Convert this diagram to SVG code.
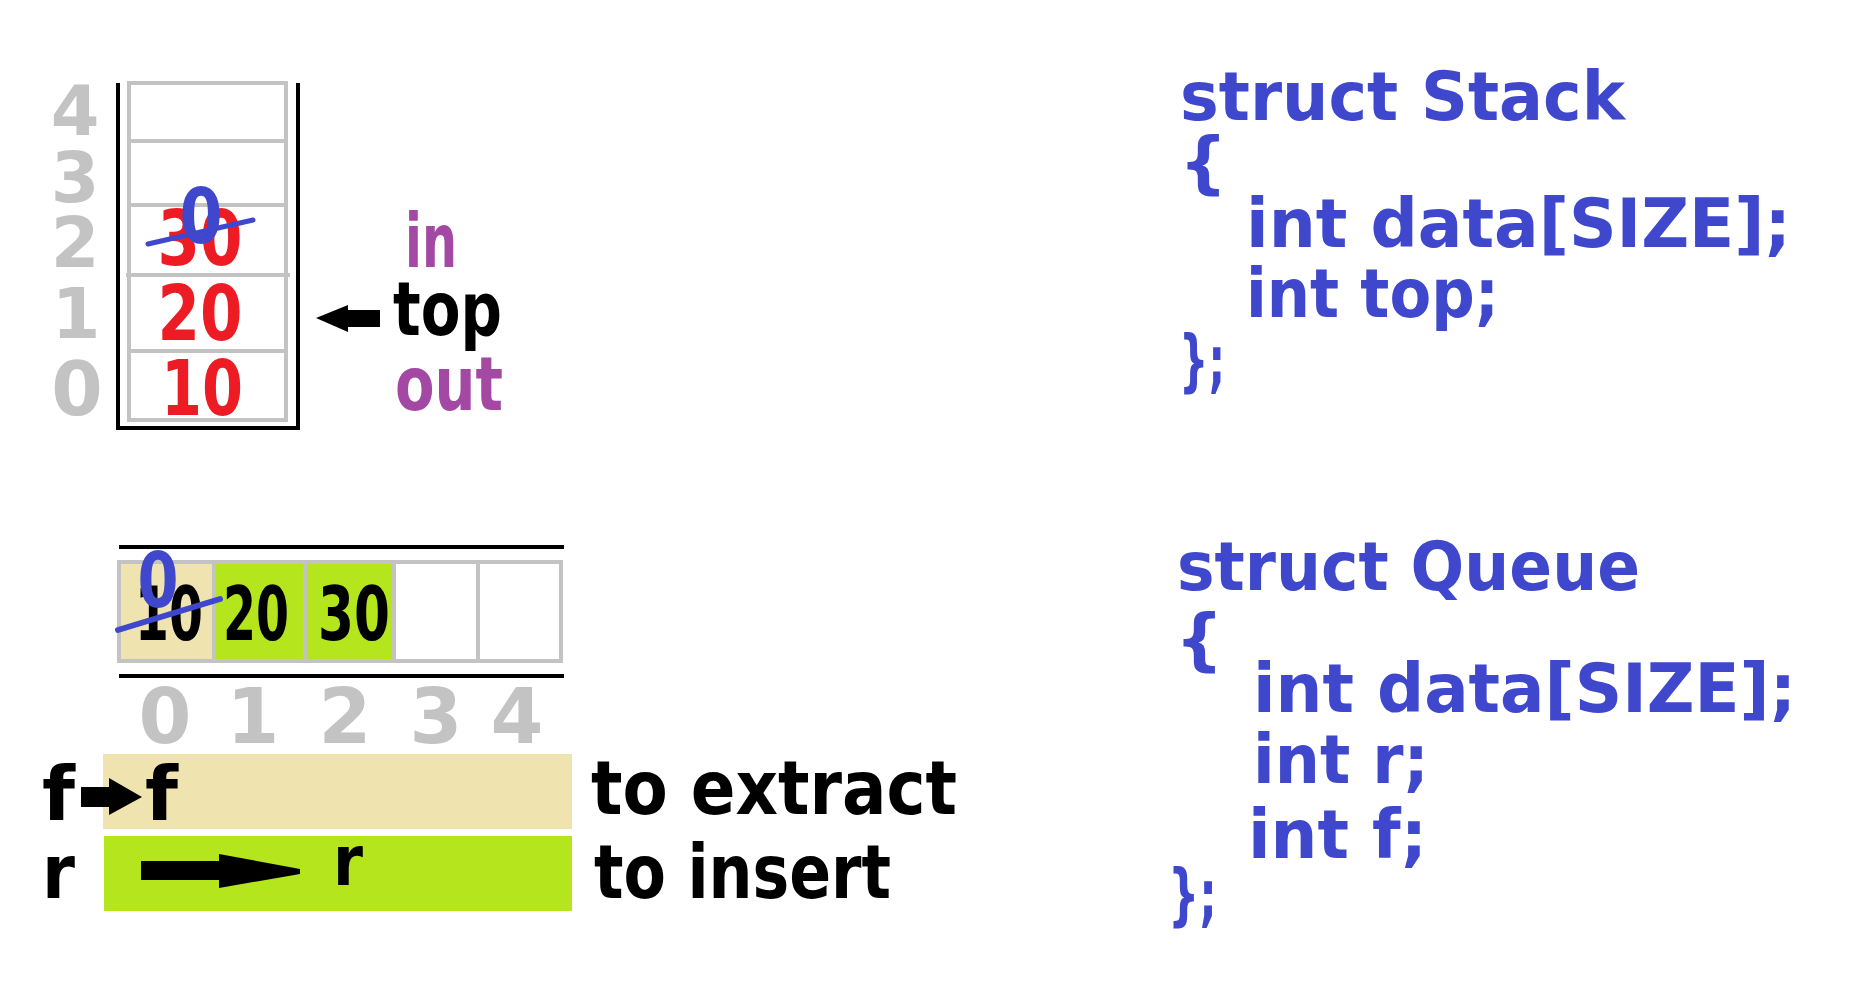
<svg xmlns="http://www.w3.org/2000/svg" width="1864" height="1004" viewBox="0 0 1864 1004">
<style>
text{font-family:"DejaVu Sans","Noto Sans",sans-serif;font-weight:bold}
.idx{fill:#c3c3c3;font-size:70px;text-anchor:middle}
.red{fill:#ed1c24;font-size:76px;text-anchor:middle}
.blk{fill:#000;font-size:75px}
.num{fill:#000;font-size:75px;text-anchor:middle}
.pur{fill:#a349a4;font-size:75px}
.blue0{fill:#3f48cc;font-size:76px;text-anchor:middle}
.code{fill:#3f48cc;font-size:68px}
.cell{fill:none;stroke:#c3c3c3;stroke-width:4}
.strike{stroke:#3f48cc;stroke-width:6;stroke-linecap:round}
</style>
<rect width="1864" height="1004" fill="#fff"/>

<g id="stack">
  <rect class="cell" x="129" y="83" width="157" height="337"/>
  <line class="cell" x1="129" y1="141" x2="286" y2="141"/>
  <line class="cell" x1="127" y1="205" x2="288" y2="205"/>
  <line class="cell" x1="126" y1="275" x2="290" y2="275"/>
  <line class="cell" x1="127" y1="351" x2="288" y2="351"/>
  <path d="M118,83 V428 H298 V83" fill="none" stroke="#000" stroke-width="4"/>
  <text class="idx" x="75" y="135">4</text>
  <text class="idx" x="75" y="202">3</text>
  <text class="idx" x="75" y="267">2</text>
  <text class="idx" x="76" y="338">1</text>
  <text class="idx" x="77" y="415" style="font-size:74px">0</text>
  <text class="red" x="200" y="265" textLength="85" lengthAdjust="spacingAndGlyphs">30</text>
  <text class="red" x="200" y="340" textLength="85" lengthAdjust="spacingAndGlyphs">20</text>
  <text class="red" x="202" y="415" textLength="82" lengthAdjust="spacingAndGlyphs">10</text>
  <text class="blue0" x="201" y="243" textLength="43" lengthAdjust="spacingAndGlyphs">0</text>
  <line class="strike" x1="148" y1="244" x2="253" y2="220" style="stroke-width:5"/>
</g>

<g id="stack-labels">
  <text class="pur" x="405" y="267" textLength="52" lengthAdjust="spacingAndGlyphs">in</text>
  <text class="blk" x="393" y="335" textLength="109" lengthAdjust="spacingAndGlyphs">top</text>
  <text class="pur" x="395" y="410" textLength="108" lengthAdjust="spacingAndGlyphs">out</text>
</g>

<g id="queue">
  <line x1="119" y1="547" x2="564" y2="547" stroke="#000" stroke-width="4"/>
  <line x1="119" y1="676" x2="564" y2="676" stroke="#000" stroke-width="4"/>
  <rect x="121" y="564" width="92" height="95" fill="#efe4b0"/>
  <rect x="216" y="564" width="88" height="95" fill="#b5e61d"/>
  <rect x="307" y="564" width="86" height="95" fill="#b5e61d"/>
  <rect class="cell" x="119" y="562" width="442" height="99"/>
  <line class="cell" x1="214" y1="562" x2="214" y2="661"/>
  <line class="cell" x1="305" y1="562" x2="305" y2="661"/>
  <line class="cell" x1="394" y1="562" x2="394" y2="661"/>
  <line class="cell" x1="478" y1="562" x2="478" y2="661"/>
  <text class="num" x="169" y="640" textLength="68" lengthAdjust="spacingAndGlyphs">10</text>
  <text class="num" x="256" y="640" textLength="66" lengthAdjust="spacingAndGlyphs">20</text>
  <text class="num" x="354" y="640" textLength="72" lengthAdjust="spacingAndGlyphs">30</text>
  <text class="blue0" x="158" y="607" textLength="41" lengthAdjust="spacingAndGlyphs">0</text>
  <line class="strike" x1="118" y1="630" x2="220" y2="599"/>
  <text class="idx" x="165" y="743" style="font-size:76px">0</text>
  <text class="idx" x="253" y="743" style="font-size:76px">1</text>
  <text class="idx" x="345" y="743" style="font-size:76px">2</text>
  <text class="idx" x="436" y="743" style="font-size:76px">3</text>
  <text class="idx" x="517" y="743" style="font-size:76px">4</text>
</g>

<g id="front-row">
  <rect x="103" y="754" width="469" height="75" fill="#efe4b0"/>
  <text class="blk" x="42" y="820" textLength="33" lengthAdjust="spacingAndGlyphs">f</text>
  <text class="blk" x="145" y="820" textLength="33" lengthAdjust="spacingAndGlyphs">f</text>
  <text class="blk" x="591" y="814" textLength="366" lengthAdjust="spacingAndGlyphs">to extract</text>
</g>

<g id="rear-row">
  <rect x="104" y="836" width="468" height="75" fill="#b5e61d"/>
  <text class="blk" x="42" y="898" textLength="33" lengthAdjust="spacingAndGlyphs">r</text>
  <text class="blk" x="333" y="885" style="font-size:70px" textLength="30" lengthAdjust="spacingAndGlyphs">r</text>
  <text class="blk" x="594" y="898" textLength="297" lengthAdjust="spacingAndGlyphs">to insert</text>
</g>

<g id="connectors" fill="#000">
  <path d="M380,310 H348 V305 L316,318 L348,332 V327 H380 Z"/>
  <path d="M81,787 H109 V778 L142,797 L109,815 V807 H81 Z"/>
  <path d="M141,861 H219 V854 L300,869 L300,874 L219,888 V880 H141 Z"/>
</g>

<g id="struct-stack">
  <text class="code" x="1180" y="120" textLength="445" lengthAdjust="spacingAndGlyphs">struct Stack</text>
  <text class="code" x="1179" y="186">{</text>
  <text class="code" x="1246" y="247" textLength="545" lengthAdjust="spacingAndGlyphs">int data[SIZE];</text>
  <text class="code" x="1246" y="317" textLength="253" lengthAdjust="spacingAndGlyphs">int top;</text>
  <text class="code" x="1179" y="384" textLength="46" lengthAdjust="spacingAndGlyphs">};</text>
</g>

<g id="struct-queue">
  <text class="code" x="1177" y="590" textLength="463" lengthAdjust="spacingAndGlyphs">struct Queue</text>
  <text class="code" x="1175" y="663">{</text>
  <text class="code" x="1253" y="712" textLength="543" lengthAdjust="spacingAndGlyphs">int data[SIZE];</text>
  <text class="code" x="1253" y="783" textLength="176" lengthAdjust="spacingAndGlyphs">int r;</text>
  <text class="code" x="1248" y="858" textLength="179" lengthAdjust="spacingAndGlyphs">int f;</text>
  <text class="code" x="1168" y="918" textLength="49" lengthAdjust="spacingAndGlyphs">};</text>
</g>
</svg>
